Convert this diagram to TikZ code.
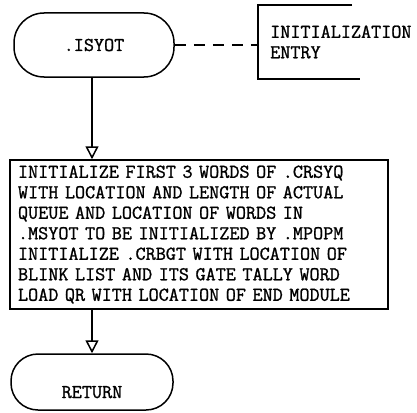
\documentclass[tikz,border=0pt]{standalone}
\usepackage{fontspec}
\newfontfamily\typer{Latin Modern Mono}[FakeBold=1.2]
\usepackage{tikz}
\usetikzlibrary{arrows.meta,positioning}

\begin{document}
\begin{tikzpicture}[
        x=1pt, y=-1pt,
        every node/.style={font=\typer\fontsize{19.6}{20.5}\selectfont},
        term/.style={draw, line width=1.5pt, rectangle, rounded corners=30pt, minimum width=160pt, minimum height=64pt},
        proc/.style={draw, line width=1.5pt, rectangle, align=left, text width=362pt, inner xsep=8pt, minimum height=149pt},
        ar/.style={-{Triangle[open, length=13pt, width=13pt]}, line width=1.5pt}
    ]
        \useasboundingbox (0,0) rectangle (417,412);
        \node (isyot) [term] at (94,45) {.ISYOT};
        \node (note) [anchor=west, align=left, inner xsep=12pt, minimum height=74pt] at (258,42) {INITIALIZATION\\ENTRY};
        \node (init) [proc] at (199,234.5) {INITIALIZE FIRST 3 WORDS OF .CRSYQ\\
            WITH LOCATION AND LENGTH OF ACTUAL\\
            QUEUE AND LOCATION OF WORDS IN\\
            .MSYOT TO BE INITIALIZED BY .MPOPM\\
            INITIALIZE .CRBGT WITH LOCATION OF\\
            BLINK LIST AND ITS GATE TALLY WORD\\
            LOAD QR WITH LOCATION OF END MODULE};
        \node (ret) [term, minimum height=56pt, minimum width=162pt, rounded corners=27pt] at (92,382) {\smash{\raisebox{-16pt}{RETURN}}};
        \draw[line width=1.5pt, dash pattern=on 11pt off 8pt] (isyot.east) -- (isyot.east -| note.west);
        \draw[line width=1.5pt] ([xshift=94pt]note.north west) -- (note.north west) -- (note.south west) -- ([xshift=102pt]note.south west);
        \draw[ar] (isyot.south -| 92,0) -- (init.north -| 92,0);
        \draw[ar] (init.south -| ret.north) -- (ret.north);
    \end{tikzpicture}
\end{document}
